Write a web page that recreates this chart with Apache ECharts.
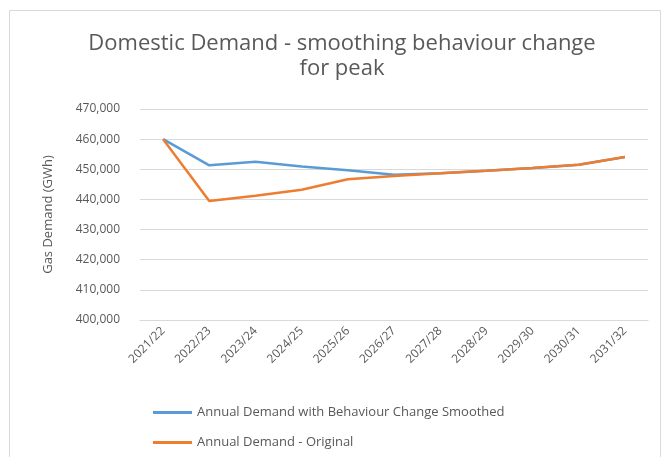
<!DOCTYPE html>
<html>
<head>
<meta charset="utf-8">
<script src="https://cdn.jsdelivr.net/npm/echarts@6/dist/echarts.min.js"></script>
<style>
  html, body { margin: 0; padding: 0; background: #fff; }
  #main { width: 670px; height: 457px; }
</style>
</head>
<body>
<div id="main"></div>
<script>
// data
var years = ['2021/22', '2022/23', '2023/24', '2024/25', '2025/26', '2026/27',
             '2027/28', '2028/29', '2029/30', '2030/31', '2031/32'];
var smoothed = [460000, 451300, 452500, 450900, 449700, 448200,
                448700, 449500, 450400, 451500, 454100];
var original = [460000, 439500, 441200, 443200, 446700, 447800,
                448700, 449500, 450400, 451500, 454100];
var seriesNames = ['Annual Demand with Behaviour Change Smoothed', 'Annual Demand - Original'];

var chart = echarts.init(document.getElementById('main'));
var font = 'Open Sans';

// one legend row per series, stacked like the excel legend
function legendRow(name, top) {
    return {
        left: 153,
        top: top,
        padding: 0,
        itemWidth: 39,
        itemHeight: 3,
        icon: 'rect',
        textStyle: { fontFamily: font, fontSize: 13, color: '#595959' },
        data: [name]
    };
}

var option = {
    animation: false,
    textStyle: { fontFamily: font },
    title: {
        text: 'Domestic Demand - smoothing behaviour change\nfor peak',
        left: 337,
        textAlign: 'center',
        top: 26,
        textStyle: { fontFamily: font, fontSize: 22, fontWeight: 'normal', color: '#595959', lineHeight: 25 }
    },
    graphic: [{
        type: 'rect',
        shape: { x: 9.5, y: 10.5, width: 651, height: 460 },
        style: { fill: 'none', stroke: '#d9d9d9', lineWidth: 1 },
        silent: true
    }],
    legend: [legendRow(seriesNames[0], 406), legendRow(seriesNames[1], 436)],
    grid: { left: 140, right: 22, top: 109, bottom: 137, containLabel: false },
    xAxis: {
        type: 'category',
        data: years,
        boundaryGap: true,
        axisLine: { lineStyle: { color: '#d9d9d9' } },
        axisTick: { show: false },
        axisLabel: { rotate: 45, color: '#595959', fontSize: 12, margin: 9 }
    },
    yAxis: {
        type: 'value',
        min: 400000,
        max: 470000,
        interval: 10000,
        name: 'Gas Demand (GWh)',
        nameLocation: 'middle',
        nameGap: 85,
        nameTextStyle: { color: '#595959', fontSize: 13 },
        axisLine: { show: false },
        axisTick: { show: false },
        splitLine: { lineStyle: { color: '#d9d9d9' } },
        axisLabel: {
            color: '#595959', fontSize: 12, margin: 20,
            formatter: function (v) { return v.toLocaleString('en-US'); }
        }
    },
    series: [
        {
            name: seriesNames[0], type: 'line', data: smoothed,
            symbol: 'none', z: 3,
            lineStyle: { color: '#5b9bd5', width: 2.5 },
            itemStyle: { color: '#5b9bd5' }
        },
        {
            name: seriesNames[1], type: 'line', data: original,
            symbol: 'none', z: 4,
            lineStyle: { color: '#ed7d31', width: 2.5 },
            itemStyle: { color: '#ed7d31' }
        }
    ]
};
chart.setOption(option);
</script>
</body>
</html>
